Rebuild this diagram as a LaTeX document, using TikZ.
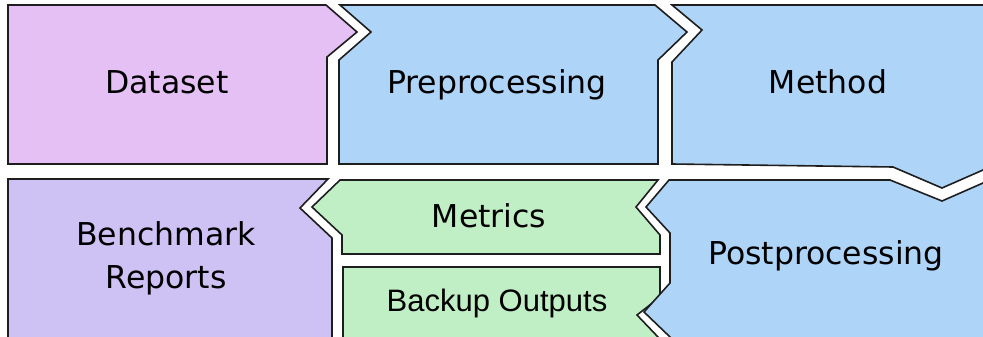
\documentclass[tikz,border=0pt]{standalone}
\usepackage{fontspec}
\setmainfont{DejaVu Sans}
\newfontfamily\arialish{Liberation Sans}
\definecolor{cdata}{HTML}{E5C0F4}
\definecolor{cblue}{HTML}{AED4F8}
\definecolor{cbench}{HTML}{CEC2F5}
\definecolor{cgreen}{HTML}{C1EFC5}
\definecolor{cline}{HTML}{1E1E1E}
\tikzset{
  piece/.style={draw=cline, line width=1.6pt, line join=miter},
  lbl/.style={anchor=base, align=center, inner sep=0pt, font=\fontsize{31.5}{43}\selectfont}
}
\begin{document}
\begin{tikzpicture}[x=1pt,y=-1pt]
\useasboundingbox (0,0) rectangle (983,337);
\clip (0,0) rectangle (983,337);
% Dataset
\path[piece, fill=cdata] (8,5) -- (326,5) -- (357,32) -- (327,57) -- (327,164) -- (8,164) -- cycle;
% Preprocessing
\path[piece, fill=cblue] (340,5) -- (655,5) -- (687,32) -- (658,60) -- (658,164) -- (339,164) -- (339,60) -- (371,32) -- cycle;
% Method
\path[piece, fill=cblue] (672,5) -- (1000,5) -- (1000,163) -- (983,170) -- (942,188) -- (893,167) -- (672,164) -- (672,62) -- (702,30) -- cycle;
% Benchmark Reports
\path[piece, fill=cbench] (8,179) -- (328,179) -- (300,208) -- (332,238) -- (332,350) -- (8,350) -- cycle;
% Metrics
\path[piece, fill=cgreen] (340,180) -- (658,180) -- (636,207) -- (660,235) -- (660,254) -- (342,254) -- (342,235) -- (312,207) -- cycle;
% Backup Outputs
\path[piece, fill=cgreen] (343,267) -- (660,267) -- (660,297) -- (637,315) -- (658,337) -- (670,350) -- (343,350) -- cycle;
% Postprocessing
\path[piece, fill=cblue] (669,180) -- (890,180) -- (942,201) -- (983,183) -- (1000,176) -- (1000,350) -- (683,350) -- (670,337) -- (644,312) -- (670,283) -- (670,233) -- (646,207) -- cycle;
% labels
\node[lbl] (dataset) at (167,93) {Dataset};
\node[lbl] (prep) at (497,93) {Preprocessing};
\node[lbl] (method) at (828,93) {Method};
\node[lbl] (bench1) at (166,245) {Benchmark};
\node[lbl] (bench2) at (166,288) {Reports};
\node[lbl] (metrics) at (489,227) {Metrics};
\node[lbl, font=\arialish\fontsize{31}{43}\selectfont] (backup) at (497,311) {Backup Outputs};
\node[lbl] (post) at (826,264) {Postprocessing};
\end{tikzpicture}
\end{document}
